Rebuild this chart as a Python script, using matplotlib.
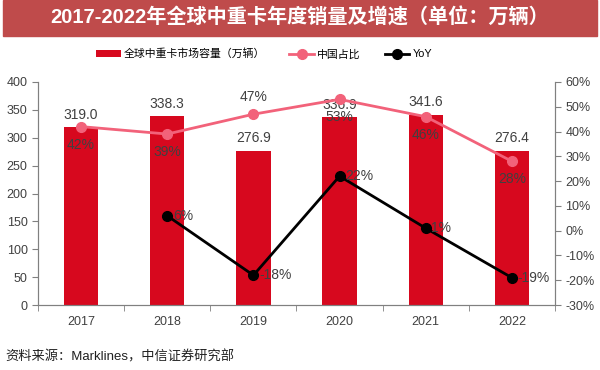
import numpy as np
import matplotlib.pyplot as plt
from matplotlib.patches import Rectangle

plt.rcParams['font.family'] = ['Liberation Sans', 'Noto Sans CJK SC', 'DejaVu Sans']

years = ['2017', '2018', '2019', '2020', '2021', '2022']
volume = [319.0, 338.3, 276.9, 336.9, 341.6, 276.4]
china_share = [42, 39, 47, 53, 46, 28]
yoy_years = ['2018', '2019', '2020', '2021', '2022']
yoy = [6, -18, 22, 1, -19]

bar_c = '#D7081E'
pink = '#F2627A'
txt = '#404040'
axc = '#808080'

fig = plt.figure(figsize=(6, 3.7), dpi=100)

# title banner
fig.patches.append(Rectangle((0.005, 1 - 36 / 370), 0.99, 36 / 370, transform=fig.transFigure,
                             color='#BF4B4B', zorder=0))
fig.text(0.5, 1 - 18 / 370, '2017-2022年全球中重卡年度销量及增速（单位：万辆）', color='white',
         fontsize=14.5, fontweight='bold', ha='center', va='center')

ax = fig.add_axes([38 / 600, 65 / 370, 517 / 600, 223 / 370])
ax2 = ax.twinx()

x = np.arange(len(years))
bars = ax.bar(x, volume, width=0.4, color=bar_c, label='全球中重卡市场容量（万辆）', zorder=1)
ax.set_ylim(0, 400)
ax.set_yticks(range(0, 401, 50))
ax.set_xlim(-0.5, len(years) - 0.5)
ax.set_xticks(x)
ax.set_xticklabels(years)
ax.set_xticks(np.arange(-0.5, len(years)), minor=True)
ax.tick_params(axis='x', which='major', length=0, pad=8)
ax.tick_params(axis='x', which='minor', length=4, color=axc, direction='out')
ax.tick_params(axis='y', length=4, color=axc, labelsize=9, labelcolor=txt)
ax.tick_params(axis='x', labelsize=9, labelcolor=txt)

for xi, v in zip(x, volume):
    ax.text(xi, v + 10, f'{v:.1f}', ha='center', va='bottom', fontsize=10, color=txt)

xy = [years.index(y) for y in yoy_years]
l1, = ax2.plot(x, china_share, color=pink, lw=2, marker='o', ms=7, label='中国占比', zorder=3)
l2, = ax2.plot(xy, yoy, color='black', lw=2, marker='o', ms=7, label='YoY', zorder=3)
ax2.set_ylim(-30, 60)
ax2.set_yticks(range(-30, 61, 10))
ax2.set_yticklabels([f'{v}%' for v in range(-30, 61, 10)])
ax2.tick_params(axis='y', length=4, color=axc, labelsize=9, labelcolor=txt)

for i, (xi, v) in enumerate(zip(x, china_share)):
    if years[i] == '2019':
        ax2.annotate(f'{v}%', (xi, v), xytext=(0, 7), textcoords='offset points',
                     ha='center', va='bottom', fontsize=10, color=txt)
    else:
        ax2.annotate(f'{v}%', (xi, v), xytext=(0, -8), textcoords='offset points',
                     ha='center', va='top', fontsize=10, color=txt)
for xi, v in zip(xy, yoy):
    ax2.annotate(f'{v}%', (xi, v), xytext=(4, 0), textcoords='offset points',
                 ha='left', va='center', fontsize=10, color=txt)

for a in (ax, ax2):
    a.spines['top'].set_visible(False)
    for s in ['left', 'right', 'bottom']:
        a.spines[s].set_color(axc)

fig.legend(handles=[bars, l1, l2], loc='center', bbox_to_anchor=(0.44, 1 - 54 / 370), ncol=3,
           frameon=False, fontsize=7.8, handlelength=2.3, columnspacing=2.2, handletextpad=0.3)

fig.text(5 / 600, 1 - 357 / 370, '资料来源：Marklines，中信证券研究部', fontsize=9.5,
         color='#202020', ha='left', va='center')

fig.savefig('out.png', dpi=100)
